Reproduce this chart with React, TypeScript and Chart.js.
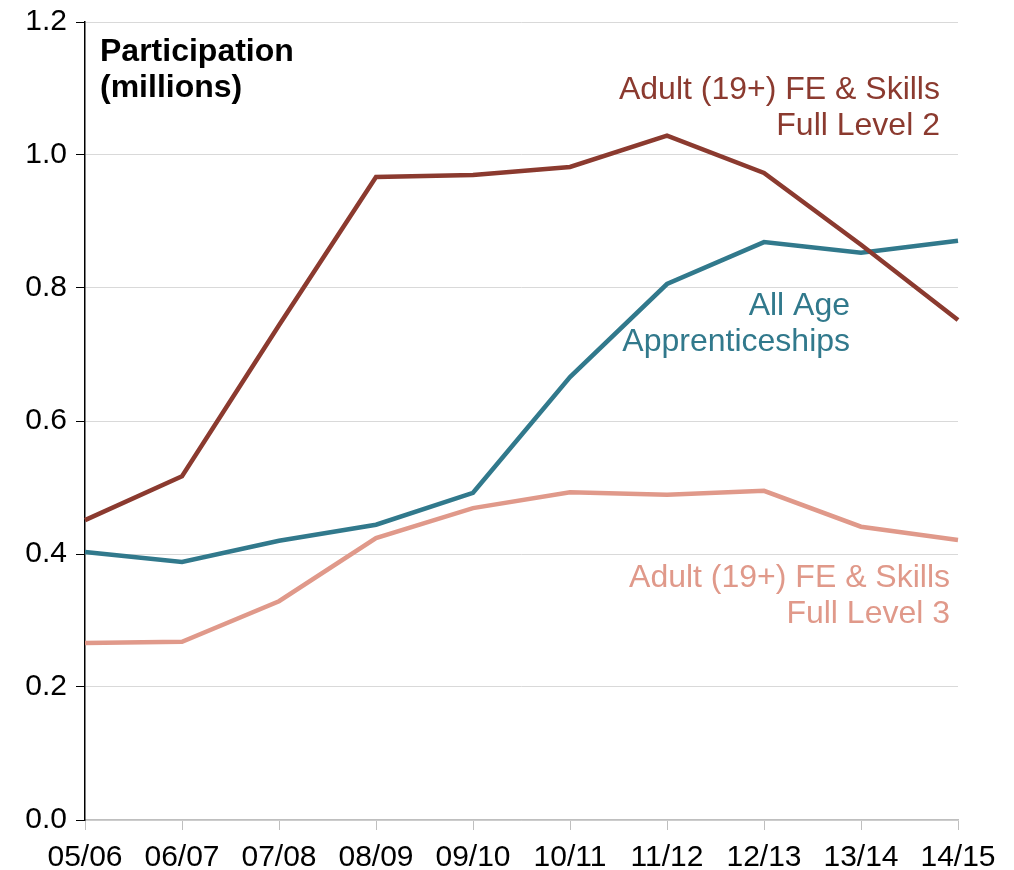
import React, { useEffect, useRef } from "react";
import { Chart, registerables } from "chart.js";

Chart.register(...registerables);

const years = ["05/06", "06/07", "07/08", "08/09", "09/10", "10/11", "11/12", "12/13", "13/14", "14/15"];
const level2 = [0.451, 0.517, 0.744, 0.967, 0.970, 0.982, 1.029, 0.973, 0.865, 0.752];
const apprenticeships = [0.403, 0.388, 0.420, 0.444, 0.492, 0.666, 0.806, 0.869, 0.853, 0.871];
const level3 = [0.266, 0.268, 0.329, 0.424, 0.469, 0.493, 0.489, 0.495, 0.441, 0.421];
const yTicks = [0, 0.2, 0.4, 0.6, 0.8, 1.0, 1.2];

const C2 = "#8B3A2F";
const CA = "#31798C";
const C3 = "#E0998A";

const annotations = [
  { lines: ["Adult (19+) FE & Skills", "Full Level 2"], color: C2, xIdx: 8.814, yVal: 1.098 },
  { lines: ["All Age", "Apprenticeships"], color: CA, xIdx: 7.887, yVal: 0.773 },
  { lines: ["Adult (19+) FE & Skills", "Full Level 3"], color: C3, xIdx: 8.918, yVal: 0.364 },
];

const annotationPlugin = {
  id: "annots",
  afterDatasetsDraw(chart: any) {
    const ctx = chart.ctx;
    const xs = chart.scales.x;
    const ys = chart.scales.y;
    ctx.save();
    ctx.font = "32px 'Liberation Sans', Arial, sans-serif";
    ctx.textAlign = "right";
    ctx.textBaseline = "middle";
    annotations.forEach((a) => {
      ctx.fillStyle = a.color;
      const x = xs.getPixelForValue(a.xIdx);
      const y0 = ys.getPixelForValue(a.yVal);
      a.lines.forEach((l, i) => ctx.fillText(l, x, y0 + i * 36));
    });
    ctx.font = "bold 32px 'Liberation Sans', Arial, sans-serif";
    ctx.textAlign = "left";
    ctx.fillStyle = "#000";
    const tx = chart.chartArea.left + 15;
    ctx.fillText("Participation", tx, 52);
    ctx.fillText("(millions)", tx, 88);
    ctx.restore();
  },
};

export default function App() {
  const ref = useRef<HTMLCanvasElement>(null);
  useEffect(() => {
    const ds = (label: string, data: number[], color: string) => ({
      label,
      data,
      borderColor: color,
      backgroundColor: color,
      borderWidth: 4.5,
      pointRadius: 0,
      tension: 0,
      fill: false,
    });
    const chart = new Chart(ref.current!, {
      type: "line",
      data: {
        labels: years,
        datasets: [
          ds("Adult (19+) FE & Skills Full Level 2", level2, C2),
          ds("All Age Apprenticeships", apprenticeships, CA),
          ds("Adult (19+) FE & Skills Full Level 3", level3, C3),
        ],
      },
      options: {
        animation: false,
        responsive: false,
        maintainAspectRatio: false,
        layout: { padding: { top: 22, right: 56, left: 0, bottom: 0 } },
        plugins: { legend: { display: false }, tooltip: { enabled: false } },
        scales: {
          x: {
            type: "category",
            offset: false,
            border: { color: "#BFBFBF", width: 1.5 },
            grid: { drawOnChartArea: false, color: "#BFBFBF", tickColor: "#BFBFBF", tickLength: 10 },
            ticks: {
              color: "#000",
              padding: 10,
              maxRotation: 0,
              autoSkip: false,
              font: { family: "'Liberation Sans', Arial, sans-serif", size: 30 },
            },
            afterFit: (s: any) => { s.height = 50; s.paddingLeft = 0; s.paddingRight = 0; },
          },
          y: {
            min: 0,
            max: 1.2,
            border: { color: "#000", width: 1.5 },
            grid: { color: "#D9D9D9", tickColor: "#000", tickLength: 9, lineWidth: 1 },
            afterBuildTicks: (s: any) => { s.ticks = yTicks.map((v) => ({ value: v })); },
            ticks: {
              color: "#000",
              padding: 9,
              font: { family: "'Liberation Sans', Arial, sans-serif", size: 30 },
              callback: (v: any) => Number(v).toFixed(1),
            },
            afterFit: (s: any) => { s.width = 85; s.paddingTop = 0; s.paddingBottom = 0; },
          },
        },
      },
      plugins: [annotationPlugin],
    });
    return () => chart.destroy();
  }, []);
  return (
    <div style={{ position: "absolute", left: 0, top: 0, width: 1014, height: 870, background: "#fff" }}>
      <canvas ref={ref} width={1014} height={870} style={{ width: 1014, height: 870 }} />
    </div>
  );
}
